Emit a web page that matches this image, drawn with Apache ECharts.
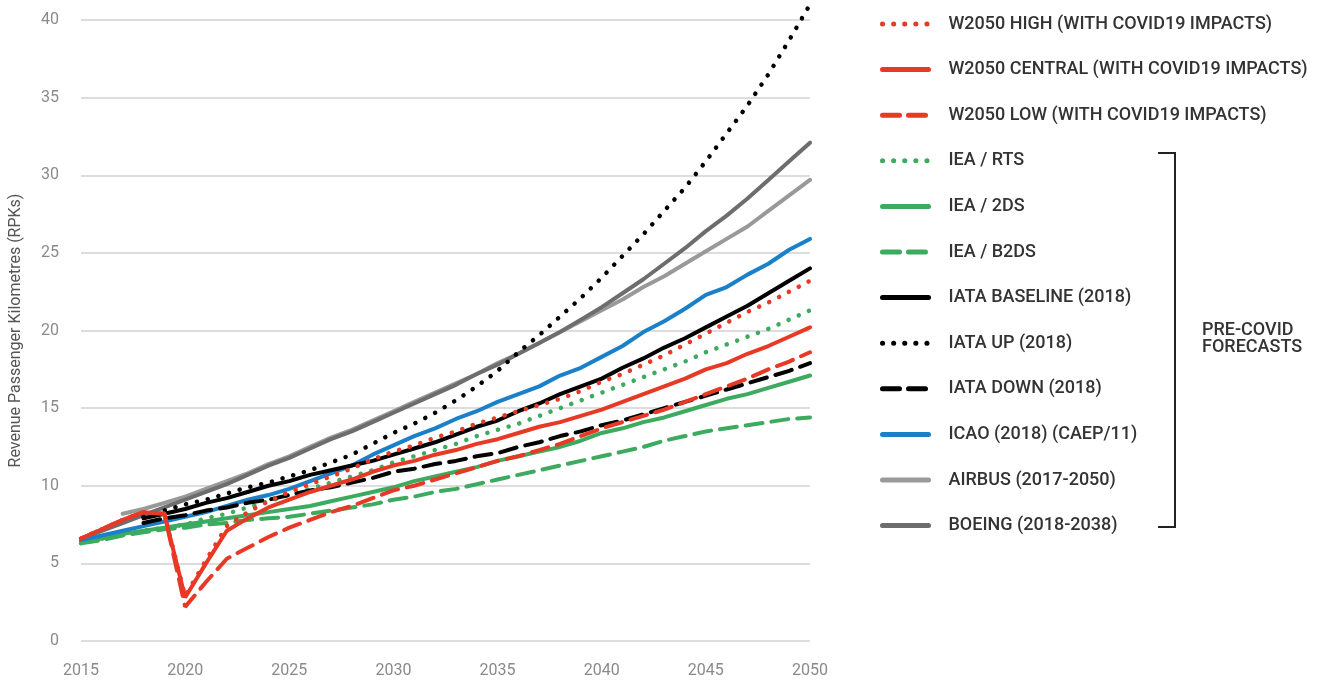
<!DOCTYPE html>
<html>
<head>
<meta charset="utf-8">
<script src="https://cdn.jsdelivr.net/npm/echarts@6/dist/echarts.min.js"></script>
<style>
  html, body { margin: 0; padding: 0; background: #fff; }
  #chart { width: 1341px; height: 685px; }
</style>
</head>
<body>
<div id="chart"></div>
<script>
// years on the x axis
var years = [2015, 2016, 2017, 2018, 2019, 2020, 2021, 2022, 2023, 2024, 2025, 2026, 2027, 2028, 2029, 2030, 2031, 2032,
  2033, 2034, 2035, 2036, 2037, 2038, 2039, 2040, 2041, 2042, 2043, 2044, 2045, 2046, 2047, 2048, 2049, 2050]
var xTicks = [2015, 2020, 2025, 2030, 2035, 2040, 2045, 2050]
var yTicks = [0, 5, 10, 15, 20, 25, 30, 35, 40]

// W2050 (with covid19 impacts), from 2015
var w2050High = [6.6, 7.2, 7.8, 8.3, 8.2, 2.9, 5.2, 7.4, 8.3, 9.0, 9.6, 10.1, 10.6, 11.1, 11.7, 12.2, 12.6, 13.1,
  13.5, 14.0, 14.4, 14.8, 15.2, 15.6, 16.1, 16.7, 17.2, 17.8, 18.4, 19.1, 19.8, 20.5, 21.2, 21.8, 22.5, 23.2]
var w2050Central = [6.6, 7.2, 7.8, 8.3, 8.2, 2.8, 5.0, 7.1, 7.9, 8.6, 9.1, 9.6, 10.0, 10.4, 10.9, 11.3, 11.6, 12.0,
  12.3, 12.7, 13.0, 13.4, 13.8, 14.1, 14.5, 14.9, 15.4, 15.9, 16.4, 16.9, 17.5, 17.9, 18.5, 19.0, 19.6, 20.2]
var w2050Low = [6.6, 7.2, 7.8, 8.3, 8.2, 2.2, 3.8, 5.3, 6.0, 6.7, 7.3, 7.8, 8.3, 8.7, 9.2, 9.7, 10.0, 10.4,
  10.8, 11.2, 11.6, 11.9, 12.3, 12.7, 13.2, 13.7, 14.1, 14.5, 14.9, 15.4, 15.9, 16.4, 16.9, 17.5, 18.0, 18.6]

// IEA, from 2015
var ieaRts = [6.3, 6.6, 6.9, 7.1, 7.3, 7.5, 7.9, 8.2, 8.6, 9.0, 9.4, 9.8, 10.2, 10.6, 11.0, 11.5, 11.9, 12.3,
  12.7, 13.2, 13.6, 14.0, 14.5, 15.0, 15.5, 16.0, 16.5, 17.0, 17.5, 18.0, 18.6, 19.1, 19.6, 20.1, 20.7, 21.3]
var iea2ds = [6.4, 6.6, 6.9, 7.1, 7.3, 7.5, 7.7, 7.9, 8.1, 8.3, 8.5, 8.7, 9.0, 9.3, 9.6, 9.9, 10.3, 10.6,
  10.9, 11.2, 11.6, 11.9, 12.2, 12.5, 12.9, 13.4, 13.7, 14.1, 14.4, 14.8, 15.2, 15.6, 15.9, 16.3, 16.7, 17.1]
var ieaB2ds = [6.3, 6.5, 6.8, 7.0, 7.2, 7.3, 7.5, 7.6, 7.8, 7.9, 8.0, 8.2, 8.4, 8.6, 8.8, 9.1, 9.3, 9.6,
  9.8, 10.1, 10.4, 10.7, 11.0, 11.3, 11.6, 11.9, 12.2, 12.5, 12.9, 13.2, 13.5, 13.7, 13.9, 14.1, 14.3, 14.4]

// IATA (2018), from 2018
var iataBaseline = [7.9, 8.2, 8.5, 8.9, 9.2, 9.6, 10.0, 10.3, 10.7, 11.0, 11.3, 11.6, 12.0, 12.4, 12.8, 13.3, 13.8,
  14.2, 14.8, 15.3, 15.9, 16.4, 16.9, 17.6, 18.2, 18.9, 19.5, 20.2, 20.9, 21.6, 22.4, 23.2, 24.0]
var iataUp = [8.0, 8.4, 8.8, 9.1, 9.5, 9.9, 10.2, 10.6, 11.0, 11.5, 12.0, 12.7, 13.4, 14.0, 14.7, 15.5, 16.4,
  17.4, 18.6, 19.7, 20.9, 22.1, 23.4, 24.8, 26.2, 27.7, 29.2, 30.9, 32.7, 34.5, 36.5, 38.7, 41.0]
var iataDown = [7.6, 7.9, 8.1, 8.4, 8.6, 8.9, 9.1, 9.4, 9.7, 9.9, 10.2, 10.5, 10.9, 11.1, 11.4, 11.6, 11.9,
  12.1, 12.5, 12.8, 13.2, 13.5, 13.9, 14.2, 14.6, 15.0, 15.4, 15.8, 16.2, 16.6, 17.0, 17.4, 17.9]

// ICAO from 2015, Airbus from 2017, Boeing from 2015
var icao = [6.5, 6.8, 7.1, 7.4, 7.7, 8.0, 8.3, 8.7, 9.1, 9.4, 9.8, 10.3, 10.8, 11.3, 12.0, 12.6, 13.2, 13.7,
  14.3, 14.8, 15.4, 15.9, 16.4, 17.1, 17.6, 18.3, 19.0, 19.9, 20.6, 21.4, 22.3, 22.8, 23.6, 24.3, 25.2, 25.9]
var airbus = [8.2, 8.5, 8.9, 9.3, 9.8, 10.3, 10.8, 11.4, 11.9, 12.5, 13.1, 13.6, 14.2, 14.8, 15.4, 16.0,
  16.6, 17.2, 17.9, 18.5, 19.2, 19.9, 20.6, 21.3, 22.0, 22.8, 23.5, 24.3, 25.1, 25.9, 26.7, 27.7, 28.7, 29.7]
var boeing = [6.6, 7.1, 7.6, 8.1, 8.6, 9.1, 9.6, 10.1, 10.7, 11.3, 11.8, 12.4, 13.0, 13.5, 14.1, 14.7, 15.3, 15.9,
  16.5, 17.2, 17.8, 18.5, 19.2, 19.9, 20.7, 21.5, 22.4, 23.3, 24.3, 25.3, 26.4, 27.4, 28.5, 29.7, 30.9, 32.1]

var RED = '#e63a26'
var GREEN = '#3dab5f'
var BLUE = '#1a80c8'
var BLACK = '#000000'
var LIGHTGREY = '#999999'
var DARKGREY = '#6d6d6d'

var DOT = [0.1, 11]
var DASH = [17, 9]

function pairs (values, startYear) {
  var off = years.indexOf(startYear)
  return values.map(function (v, i) { return [years[off + i], v] })
}

function line (name, values, startYear, color, type, width) {
  return {
    name: name,
    type: 'line',
    data: pairs(values, startYear),
    symbol: 'none',
    clip: false,
    lineStyle: { color: color, width: width || 4, type: type, cap: 'round' },
    itemStyle: { color: color }
  }
}

var series = [
  line('IEA / B2DS', ieaB2ds, 2015, GREEN, DASH),
  line('IEA / 2DS', iea2ds, 2015, GREEN, 'solid'),
  line('IEA / RTS', ieaRts, 2015, GREEN, DOT, 4.5),
  line('AIRBUS (2017-2050)', airbus, 2017, LIGHTGREY, 'solid'),
  line('BOEING (2018-2038)', boeing, 2015, DARKGREY, 'solid'),
  line('ICAO (2018) (CAEP/11)', icao, 2015, BLUE, 'solid'),
  line('IATA DOWN (2018)', iataDown, 2018, BLACK, DASH),
  line('IATA BASELINE (2018)', iataBaseline, 2018, BLACK, 'solid'),
  line('IATA UP (2018)', iataUp, 2018, BLACK, DOT, 4.5),
  line('W2050 LOW (WITH COVID19 IMPACTS)', w2050Low, 2015, RED, DASH),
  line('W2050 CENTRAL (WITH COVID19 IMPACTS)', w2050Central, 2015, RED, 'solid'),
  line('W2050 HIGH (WITH COVID19 IMPACTS)', w2050High, 2015, RED, DOT, 4.5)
]

var legendOrder = [
  'W2050 HIGH (WITH COVID19 IMPACTS)', 'W2050 CENTRAL (WITH COVID19 IMPACTS)', 'W2050 LOW (WITH COVID19 IMPACTS)',
  'IEA / RTS', 'IEA / 2DS', 'IEA / B2DS',
  'IATA BASELINE (2018)', 'IATA UP (2018)', 'IATA DOWN (2018)',
  'ICAO (2018) (CAEP/11)', 'AIRBUS (2017-2050)', 'BOEING (2018-2038)'
]

var chart = echarts.init(document.getElementById('chart'))
chart.setOption({
  animation: false,
  textStyle: { fontFamily: 'Roboto' },
  grid: { left: 80, right: 531, top: 20, bottom: 44 },
  xAxis: {
    type: 'value',
    min: xTicks[0],
    max: xTicks[xTicks.length - 1],
    interval: 5,
    axisLine: { show: false },
    axisTick: { show: false },
    splitLine: { show: false },
    axisLabel: {
      margin: 22,
      color: '#8a8a8a',
      fontSize: 16,
      formatter: function (v) { return String(v) }
    }
  },
  yAxis: {
    type: 'value',
    min: yTicks[0],
    max: yTicks[yTicks.length - 1],
    interval: 5,
    name: 'Revenue Passenger Kilometres (RPKs)',
    nameLocation: 'middle',
    nameGap: 57,
    nameTextStyle: { color: '#555', fontSize: 16 },
    axisLine: { show: false },
    axisTick: { show: false },
    axisLabel: { margin: 22, color: '#8a8a8a', fontSize: 16 },
    splitLine: { lineStyle: { color: '#dddddd', width: 2 } }
  },
  legend: {
    orient: 'vertical',
    left: 875,
    top: 10,
    itemWidth: 46,
    itemHeight: 18,
    itemGap: 27.6,
    data: legendOrder,
    itemStyle: { opacity: 0 },
    lineStyle: { width: 5 },
    textStyle: { color: '#333', fontSize: 18, fontWeight: 500, lineHeight: 18, padding: [0, 0, 0, 15] }
  },
  graphic: [
    {
      type: 'polyline',
      shape: { points: [[1158, 153], [1175, 153], [1175, 527], [1158, 527]] },
      style: { stroke: '#222', lineWidth: 2, fill: null }
    },
    {
      type: 'text',
      left: 1202,
      top: 321,
      style: { text: 'PRE-COVID\nFORECASTS', fill: '#333', font: '500 18px Roboto', lineHeight: 17 }
    }
  ],
  series: series
})
</script>
</body>
</html>
